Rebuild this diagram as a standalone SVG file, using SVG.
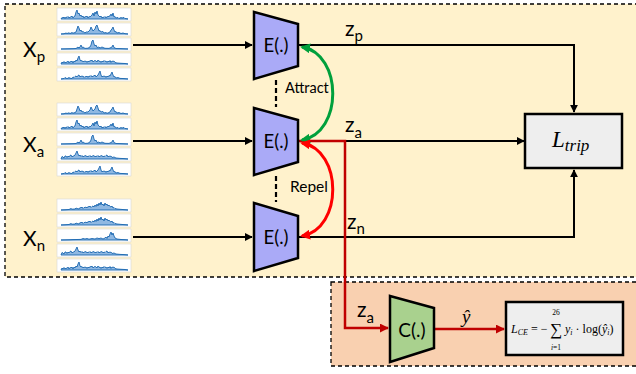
<svg xmlns="http://www.w3.org/2000/svg" xmlns:xlink="http://www.w3.org/1999/xlink" width="636" height="374" viewBox="0 0 636 374">
<style>
.lbl{font-family:Lato,"Liberation Sans",sans-serif;fill:#000}
.big{font-size:21px}
.sub{font-size:15px}
.enc{fill:#aaaaf7;stroke:#000;stroke-width:2.5;stroke-linejoin:miter}
.cls{fill:#a9d18e;stroke:#000;stroke-width:2.5}
.wire{fill:none;stroke:#000;stroke-width:2}
.math{font-family:"Liberation Serif","DejaVu Serif",serif;font-style:italic;fill:#000}
.plot{fill:#fff;stroke:#d8d8d8;stroke-width:0.6}
.wave{fill:#8fb8e2;stroke:#1a66b0;stroke-width:0.9;stroke-linejoin:round}
</style>
<defs>
<marker id="ab" viewBox="0 0 10 10" refX="9" refY="5" markerWidth="8" markerHeight="8" markerUnits="userSpaceOnUse" orient="auto"><path d="M0,0 L10,5 L0,10 z" fill="#000"/></marker>
<marker id="ar" viewBox="0 0 10 10" refX="9" refY="5" markerWidth="9" markerHeight="9" markerUnits="userSpaceOnUse" orient="auto"><path d="M0,0 L10,5 L0,10 z" fill="#c00000"/></marker>
<marker id="ag" viewBox="0 0 10 10" refX="8" refY="5" markerWidth="10" markerHeight="10" markerUnits="userSpaceOnUse" orient="auto-start-reverse"><path d="M0,0 L10,5 L0,10 z" fill="#00a03c"/></marker>
<marker id="arr" viewBox="0 0 10 10" refX="8" refY="5" markerWidth="10" markerHeight="10" markerUnits="userSpaceOnUse" orient="auto-start-reverse"><path d="M0,0 L10,5 L0,10 z" fill="#ff0000"/></marker>
<path id="w1" class="wave" d="M2,11 L3,9.5 L4,10 L5,9 L6,10.5 L7,9 L8,9.5 L9,8.5 L10,10 L11,9 L12,9 L13,8 L14,10 L15,8.5 L16,8 L17,4 L18,2 L19,6 L20,5 L21,8 L22,7 L23,9 L24,8 L25,10 L26,8.5 L27,9 L28,8 L29,10 L30,8.5 L31,9 L32,8 L33,7 L34,5 L35,8 L36,4 L37,6 L38,3 L39,7 L40,8 L41,9 L42,8 L43,10 L44,9 L45,9.5 L46,8.5 L47,10 L48,8.5 L49,9 L50,8 L51,8 L52,6 L53,8 L54,5 L55,9 L56,8.5 L57,10 L59,9.5 L60,10.5 L62,9.5 L63,10 L65,9.5 L66,10.5 L69,11 Z"/>
<path id="w2" class="wave" d="M2,11 L5,10.8 L7,10 L8,10.5 L10,9.8 L11,10.6 L13,9.5 L14,10.2 L16,9.5 L17,9 L18,6 L19,3 L20,5 L21,8 L22,7 L23,9 L24,8.5 L26,10 L27,9 L29,9 L30,8 L31,7 L32,4 L33,6 L34,8 L35,7 L36,6 L37,3 L38,2 L39,5 L40,8 L41,7.5 L42,9 L44,8.5 L45,10 L47,9.5 L48,10.3 L50,9.5 L51,9 L52,7 L53,6 L54,4 L55,7 L56,9 L57,8.5 L58,10 L60,9.5 L62,10.5 L64,10 L66,10.7 L69,11 Z"/>
<path id="w3" class="wave" d="M2,11 L6,10.9 L10,10.8 L14,10.7 L17,10.5 L19,9 L20,10 L21,9 L22,7 L23,9.5 L24,9 L26,10.4 L29,10.2 L30,9.5 L31,9 L32,7 L33,3 L34,2 L35,6 L36,8 L37,7 L38,9.5 L40,9 L41,10 L43,9 L44,9.5 L46,10.3 L50,10.4 L52,9.5 L53,9 L54,7 L55,9.5 L57,10.5 L61,10.6 L65,10.8 L69,11 Z"/>
<path id="w4" class="wave" d="M2,11 L3,9 L4,10 L5,8.5 L6,10 L7,9 L8,9.5 L9,8 L10,10 L11,8.5 L12,9 L13,8 L14,10 L15,8 L16,9 L17,7 L18,8 L19,5 L20,3 L21,7 L22,8 L23,7.5 L24,9 L25,8 L26,8.5 L27,8 L28,9.5 L29,8 L30,9 L31,7.5 L32,8 L33,7 L34,9 L35,8 L36,7.5 L37,8 L38,9 L39,7 L40,8.5 L41,8 L42,9.5 L43,8 L44,9 L45,7.5 L46,8.5 L47,8 L48,9.5 L49,8 L50,9 L51,7.5 L52,9.5 L53,8 L54,8.5 L55,8 L56,9.5 L58,10 L62,10.3 L66,10.5 L69,11 Z"/>
<path id="w5" class="wave" d="M2,11 L5,10.5 L6,9.5 L8,10.7 L10,9.5 L11,10.2 L13,10.5 L14,9 L15,9.5 L16,8.5 L17,8 L18,9 L19,7.5 L20,7 L21,9 L22,8 L23,8.5 L24,8 L25,9.5 L26,8.5 L27,9 L28,8 L29,9.5 L30,8 L31,8.5 L32,7.5 L33,9 L34,8 L35,8 L36,7 L37,9 L38,8 L39,7 L40,5 L41,3 L42,7 L43,9 L44,8 L45,8.5 L46,8 L47,9.5 L48,8 L49,9 L50,7.5 L51,8 L52,6 L53,4 L54,7 L55,9 L56,8.5 L57,10 L59,9.5 L61,10.4 L65,10.6 L69,11 Z"/>
<path id="w6" class="wave" d="M2,11 L6,10.8 L10,10.5 L12,9.5 L13,10.2 L16,10 L17,9 L18,9.5 L20,10 L21,8.5 L22,9 L23,8 L24,9.5 L25,8.5 L26,8.5 L27,8 L28,9 L29,7.5 L30,8 L31,7 L32,8.5 L33,7.5 L34,7 L35,8 L36,6 L37,7.5 L38,5 L39,7 L40,4 L41,6 L42,3 L43,6 L44,5 L45,7 L46,4 L47,6 L48,5 L49,7 L50,6 L51,7.5 L52,8 L53,7 L54,9 L55,8.5 L56,9.5 L58,10 L62,10.4 L66,10.7 L69,11 Z"/>
<path id="w7" class="wave" d="M2,11 L6,10.9 L10,10.8 L14,10.6 L18,10.5 L22,10.4 L24,9.5 L26,10 L28,9.5 L30,10.2 L33,9.5 L36,10 L38,9 L40,9.6 L42,9 L44,10 L46,9 L47,8 L48,9.5 L49,7 L50,8 L51,5 L52,3 L53,6 L54,4 L55,7 L56,9 L58,10 L62,10.5 L66,10.7 L69,11 Z"/>
<path id="w8" class="wave" d="M2,11 L3,8.5 L4,9 L5,10 L6,8 L7,8 L8,9.5 L9,8 L10,9 L11,7.5 L12,7 L13,9 L14,8 L15,8 L16,7 L17,5 L18,3 L19,6 L20,8 L21,7 L22,8.5 L23,7.5 L24,9 L25,8 L26,8 L27,7.5 L28,9 L29,8 L30,8.5 L31,7.5 L32,9 L33,8 L34,8 L35,7.5 L36,9 L37,8 L38,8.5 L39,7.5 L40,9 L41,8 L42,8 L43,7.5 L44,9 L45,8 L46,8.5 L47,7.5 L48,7 L49,9 L50,8 L51,8.5 L52,8 L53,9.5 L55,9 L57,10 L61,10.4 L65,10.6 L69,11 Z"/>
<g id="grpP">
<rect class="plot" x="0" y="0" width="74" height="13"/><use xlink:href="#w1" x="2" y="0"/>
<rect class="plot" x="0" y="15" width="74" height="13"/><use xlink:href="#w2" x="2" y="15"/>
<rect class="plot" x="0" y="30" width="74" height="13"/><use xlink:href="#w3" x="2" y="30"/>
<rect class="plot" x="0" y="45" width="74" height="13"/><use xlink:href="#w4" x="2" y="45"/>
<rect class="plot" x="0" y="60" width="74" height="13"/><use xlink:href="#w5" x="2" y="60"/>
</g>
<g id="grpA">
<rect class="plot" x="0" y="0" width="74" height="13"/><use xlink:href="#w2" x="2" y="0"/>
<rect class="plot" x="0" y="15" width="74" height="13"/><use xlink:href="#w1" x="2" y="15"/>
<rect class="plot" x="0" y="30" width="74" height="13"/><use xlink:href="#w3" x="2" y="30"/>
<rect class="plot" x="0" y="45" width="74" height="13"/><use xlink:href="#w8" x="2" y="45"/>
<rect class="plot" x="0" y="60" width="74" height="13"/><use xlink:href="#w5" x="2" y="60"/>
</g>
<g id="grpN">
<rect class="plot" x="0" y="0" width="74" height="13"/><use xlink:href="#w6" x="2" y="0"/>
<rect class="plot" x="0" y="15" width="74" height="13"/><use xlink:href="#w6" x="2" y="15"/>
<rect class="plot" x="0" y="30" width="74" height="13"/><use xlink:href="#w7" x="2" y="30"/>
<rect class="plot" x="0" y="45" width="74" height="13"/><use xlink:href="#w8" x="2" y="45"/>
<rect class="plot" x="0" y="60" width="74" height="13"/><use xlink:href="#w4" x="2" y="60"/>
</g>
</defs>

<g id="panels">
<rect x="5" y="4" width="640" height="273" fill="#fff2cc" stroke="#000" stroke-width="1.3" stroke-dasharray="4,3"/>
<rect x="331" y="282" width="310" height="84" fill="#f9d0b0" stroke="#000" stroke-width="1.3" stroke-dasharray="4,3"/>
</g>

<g id="inputs">
<g id="xp"><use xlink:href="#grpP" x="57" y="8"/><text class="lbl big" x="23" y="57">X<tspan class="sub" dy="5">p</tspan></text></g>
<g id="xa"><use xlink:href="#grpA" x="57" y="103"/><text class="lbl big" x="23" y="152">X<tspan class="sub" dy="5">a</tspan></text></g>
<g id="xn"><use xlink:href="#grpN" x="57" y="199"/><text class="lbl big" x="23" y="246">X<tspan class="sub" dy="5">n</tspan></text></g>
</g>

<g id="links">
<line x1="276" y1="80" x2="276" y2="107" stroke="#000" stroke-width="2.2" stroke-dasharray="5,3"/>
<line x1="276" y1="176" x2="276" y2="202" stroke="#000" stroke-width="2.2" stroke-dasharray="5,3"/>
<path class="wire" d="M133,45 H252" marker-end="url(#ab)"/>
<path class="wire" d="M133,141 H252" marker-end="url(#ab)"/>
<path class="wire" d="M133,237 H252" marker-end="url(#ab)"/>
<path class="wire" d="M299,45 H574 V112" marker-end="url(#ab)"/>
<path class="wire" d="M299,141 H524" marker-end="url(#ab)"/>
<path class="wire" d="M299,237 H574 V170" marker-end="url(#ab)"/>
<path d="M299,141 H345 V328 H388" fill="none" stroke="#c00000" stroke-width="2.5" marker-end="url(#ar)"/>
<path d="M435,329 H504" fill="none" stroke="#c00000" stroke-width="2.5" marker-end="url(#ar)"/>
<path d="M302,47 C343,54 343,133 302,140" fill="none" stroke="#00a03c" stroke-width="3" marker-start="url(#ag)" marker-end="url(#ag)"/>
<path d="M302,143 C343,150 343,229 302,236" fill="none" stroke="#ff0000" stroke-width="3" marker-start="url(#arr)" marker-end="url(#arr)"/>
<text class="lbl" x="285" y="93" font-size="14.5">Attract</text>
<text class="lbl" x="290" y="192" font-size="15.5">Repel</text>
<text class="lbl big" x="345" y="36">z<tspan class="sub" dy="5">p</tspan></text>
<text class="lbl big" x="345" y="132">z<tspan class="sub" dy="6">a</tspan></text>
<text class="lbl big" x="347" y="229">z<tspan class="sub" dy="5">n</tspan></text>
<text class="lbl big" x="357" y="317">z<tspan class="sub" dy="6">a</tspan></text>
<text class="math" x="462" y="323" font-size="19">ŷ</text>
</g>

<g id="enc_p"><polygon class="enc" points="254,12 298,24 298,66 254,79"/><text class="lbl" x="276" y="52" font-size="18.5" text-anchor="middle">E(.)</text></g>
<g id="enc_a"><polygon class="enc" points="254,108 298,120 298,162 254,175"/><text class="lbl" x="276" y="148" font-size="18.5" text-anchor="middle">E(.)</text></g>
<g id="enc_n"><polygon class="enc" points="254,203 298,216 298,258 254,271"/><text class="lbl" x="276" y="244" font-size="18.5" text-anchor="middle">E(.)</text></g>

<g id="ltrip"><rect x="525" y="114" width="97" height="54" fill="#eeeeee" stroke="#000" stroke-width="2.5"/><text class="math" x="552" y="147" font-size="23">L<tspan font-size="17" dy="4">trip</tspan></text></g>

<g id="clf"><polygon class="cls" points="390,296 434,308 434,348 390,362"/><text class="lbl" x="412" y="337" font-size="19" text-anchor="middle">C(.)</text></g>

<g id="lce"><rect x="506" y="302" width="117" height="53" fill="#eeeeee" stroke="#000" stroke-width="2.5"/>
<text class="math" x="511" y="333" font-size="12">L<tspan font-size="8" dy="2">CE</tspan><tspan dy="-2" font-style="normal"> = −</tspan></text>
<text x="556" y="335" font-family="Liberation Serif,serif" font-size="17" text-anchor="middle">∑</text>
<text x="556" y="315" font-family="Liberation Serif,serif" font-size="7.5" text-anchor="middle">26</text>
<text x="556" y="350" font-family="Liberation Serif,serif" font-size="7.5" text-anchor="middle"><tspan font-style="italic">i</tspan>=1</text>
<text class="math" x="565" y="333" font-size="12">y<tspan font-size="8" dy="2">i</tspan><tspan dy="-2" font-style="normal"> · log(</tspan>ŷ<tspan font-size="8" dy="2">i</tspan><tspan dy="-2" font-style="normal">)</tspan></text>
</g>
</svg>
